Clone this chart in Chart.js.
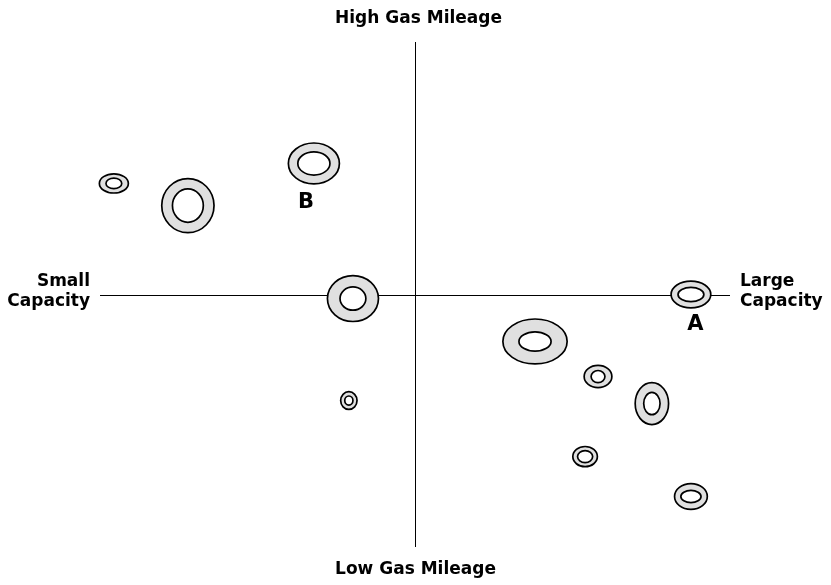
<!DOCTYPE html>
<html>
<head>
<meta charset="utf-8">
<script src="https://cdn.jsdelivr.net/npm/chart.js@4"></script>
<style>
  body { margin: 0; background: #fff; }
  canvas { display: block; }
</style>
</head>
<body>
<canvas id="mapChart" width="831" height="585"></canvas>
<script>
// positions on the map, axes run -10..10
let xValues = [-9.56, -7.21, -3.21, -1.97, -2.10, 8.76, 3.81, 5.81, 7.52, 5.40, 8.76]
let yValues = [4.40, 3.52, 5.19, -0.16, -4.20, 0.00, -1.86, -3.25, -4.32, -6.42, -8.00]
// half widths / half heights of the rings, in axis units
let outerW = [0.46, 0.83, 0.81, 0.81, 0.26, 0.63, 1.02, 0.44, 0.53, 0.39, 0.52]
let outerH = [0.38, 1.07, 0.81, 0.91, 0.35, 0.53, 0.89, 0.44, 0.83, 0.40, 0.51]
let innerW = [0.25, 0.49, 0.51, 0.41, 0.13, 0.41, 0.51, 0.22, 0.26, 0.24, 0.32]
let innerH = [0.21, 0.66, 0.46, 0.46, 0.18, 0.28, 0.38, 0.24, 0.44, 0.24, 0.24]
// letter tags
let tagText = ['A', 'B']
let tagX = [8.90, -3.46]
let tagY = [-1.19, 3.64]

let points = []
for (let i = 0; i < xValues.length; i++) {
    points.push({ x: xValues[i], y: yValues[i] })
}

const font = '"DejaVu Sans", "Lato", sans-serif'

const mapPlugin = {
    id: 'perceptualMap',
    beforeDatasetsDraw(chart) {
        const ctx = chart.ctx
        const area = chart.chartArea
        const xs = chart.scales.x
        const ys = chart.scales.y
        const cx = Math.round(xs.getPixelForValue(0)) + 0.5
        const cy = Math.round(ys.getPixelForValue(0)) + 0.5
        ctx.save()
        ctx.strokeStyle = '#000'
        ctx.lineWidth = 1
        ctx.beginPath()
        ctx.moveTo(area.left, cy)
        ctx.lineTo(area.right, cy)
        ctx.moveTo(cx, area.top)
        ctx.lineTo(cx, area.bottom)
        ctx.stroke()

        ctx.fillStyle = '#000'
        ctx.font = 'bold 17px ' + font
        ctx.textAlign = 'center'
        ctx.textBaseline = 'middle'
        ctx.fillText('High Gas Mileage', cx + 3, 19)
        ctx.fillText('Low Gas Mileage', cx, 570)
        ctx.textAlign = 'right'
        ctx.fillText('Small', area.left - 10, 282)
        ctx.fillText('Capacity', area.left - 10, 302)
        ctx.textAlign = 'left'
        ctx.fillText('Large', area.right + 10, 282)
        ctx.fillText('Capacity', area.right + 10, 302)
        ctx.restore()
    },
    afterDatasetsDraw(chart) {
        const ctx = chart.ctx
        const xs = chart.scales.x
        const ys = chart.scales.y
        const meta = chart.getDatasetMeta(0)
        const unitX = Math.abs(xs.getPixelForValue(1) - xs.getPixelForValue(0))
        const unitY = Math.abs(ys.getPixelForValue(1) - ys.getPixelForValue(0))
        ctx.save()
        ctx.strokeStyle = '#000'
        ctx.lineWidth = 1.7
        meta.data.forEach((pt, i) => {
            ctx.beginPath()
            ctx.ellipse(pt.x, pt.y, outerW[i] * unitX, outerH[i] * unitY, 0, 0, Math.PI * 2)
            ctx.fillStyle = '#e0e0e0'
            ctx.fill()
            ctx.stroke()
            ctx.beginPath()
            ctx.ellipse(pt.x, pt.y, innerW[i] * unitX, innerH[i] * unitY, 0, 0, Math.PI * 2)
            ctx.fillStyle = '#fff'
            ctx.fill()
            ctx.stroke()
        })
        ctx.fillStyle = '#000'
        ctx.font = 'bold 21px ' + font
        ctx.textAlign = 'center'
        ctx.textBaseline = 'middle'
        for (let i = 0; i < tagText.length; i++) {
            ctx.fillText(tagText[i], xs.getPixelForValue(tagX[i]), ys.getPixelForValue(tagY[i]))
        }
        ctx.restore()
    }
}

new Chart(document.getElementById('mapChart'), {
    type: 'scatter',
    data: {
        datasets: [{
            data: points,
            pointRadius: 0,
            pointHoverRadius: 0
        }]
    },
    options: {
        responsive: false,
        animation: false,
        layout: { padding: { left: 100, right: 101, top: 42, bottom: 38 } },
        plugins: { legend: { display: false }, tooltip: { enabled: false } },
        scales: {
            x: { display: false, min: -10, max: 10 },
            y: { display: false, min: -10, max: 10 }
        }
    },
    plugins: [mapPlugin]
})
</script>
</body>
</html>
